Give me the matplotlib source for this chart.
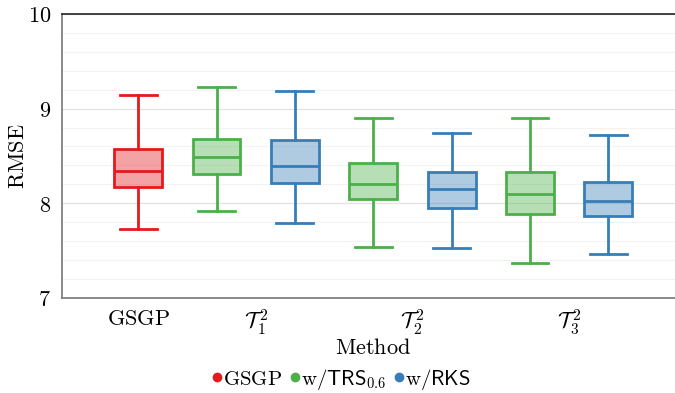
import matplotlib
matplotlib.use("Agg")
import matplotlib.pyplot as plt
from matplotlib.lines import Line2D
import numpy as np

# Estadisticas (bigote inferior, Q1, mediana, Q3, bigote superior)
series = ["GSGP", "w/TRS", "w/RKS", "w/TRS", "w/RKS", "w/TRS", "w/RKS"]
whislo = [7.73, 7.92, 7.79, 7.54, 7.53, 7.37, 7.465]
q1 = [8.17, 8.31, 8.215, 8.046, 7.95, 7.89, 7.87]
med = [8.34, 8.49, 8.39, 8.205, 8.15, 8.10, 8.025]
q3 = [8.574, 8.68, 8.67, 8.43, 8.33, 8.33, 8.22]
whishi = [9.145, 9.23, 9.19, 8.90, 8.74, 8.90, 8.72]

xtick_labels = [r"$\mathrm{GSGP}$", r"$\mathcal{T}_1^{\,2}$", r"$\mathcal{T}_2^{\,2}$", r"$\mathcal{T}_3^{\,2}$"]
yticks = [7, 8, 9, 10]
legend_labels = [r"$\mathrm{GSGP}$", r"$\mathrm{w/}\mathsf{TRS}_{0.6}$", r"$\mathrm{w/}\mathsf{RKS}$"]

colors = {"GSGP": "#e41a1c", "w/TRS": "#4daf4a", "w/RKS": "#377eb8"}

plt.rcParams["mathtext.fontset"] = "cm"
plt.rcParams["font.family"] = "serif"
plt.rcParams["font.serif"] = ["DejaVu Serif"]

FS = 16

fig = plt.figure(figsize=(6.75, 3.93), dpi=100)
ax = fig.add_axes([0.092, 0.242, 0.908, 0.7224])

pos = np.arange(len(series))
stats = []
for i in range(len(series)):
    stats.append(dict(whislo=whislo[i], q1=q1[i], med=med[i], q3=q3[i], whishi=whishi[i], fliers=[]))

for i, s in enumerate(series):
    c = colors[s]
    ax.bxp([stats[i]], positions=[pos[i]], widths=0.61, patch_artist=True, showfliers=False,
           boxprops=dict(facecolor=matplotlib.colors.to_rgba(c, 0.4), edgecolor=c, linewidth=2),
           medianprops=dict(color=c, linewidth=2),
           whiskerprops=dict(color=c, linewidth=2),
           capprops=dict(color=c, linewidth=2), capwidths=0.47)

ax.set_xlim(-0.97, 6.85)
ax.set_ylim(7, 10)
ax.set_xticks([0, 1.5, 3.5, 5.5])
ax.set_xticklabels(xtick_labels, fontsize=FS)
ax.set_yticks(yticks)
ax.set_yticklabels(["$%d$" % v for v in yticks], fontsize=FS)
ax.set_yticks(np.arange(7, 10.01, 0.2), minor=True)
ax.tick_params(axis="x", length=0, pad=7)
ax.tick_params(axis="y", which="both", length=0, pad=8)
ax.grid(True, which="major", axis="y", color="#e2e2e2", linewidth=0.9)
ax.grid(True, which="minor", axis="y", color="#f3f3f3", linewidth=0.8)
ax.set_axisbelow(True)

ax.spines["right"].set_visible(False)
ax.spines["top"].set_color("#222222")
ax.spines["left"].set_color("#777777")
ax.spines["bottom"].set_color("#777777")
for sp in ax.spines.values():
    sp.set_linewidth(1.2)

ax.set_ylabel(r"$\mathrm{RMSE}$", fontsize=FS)
ax.yaxis.set_label_coords(-0.072, 0.5)
ax.set_xlabel(r"$\mathrm{Method}$", fontsize=FS)
ax.xaxis.set_label_coords(0.507, -0.176)
ax.xaxis.label.set_va("center")
ax.yaxis.label.set_va("center")

handles = [Line2D([], [], marker="o", linestyle="", color=colors[k], markersize=6)
           for k in ["GSGP", "w/TRS", "w/RKS"]]
fig.legend(handles, legend_labels, loc="center", bbox_to_anchor=(0.5, 0.035), ncol=3,
           frameon=False, fontsize=15, handletextpad=-0.3, columnspacing=0.0, handlelength=1.2,
           borderpad=0)

fig.savefig("out.png", dpi=100)
